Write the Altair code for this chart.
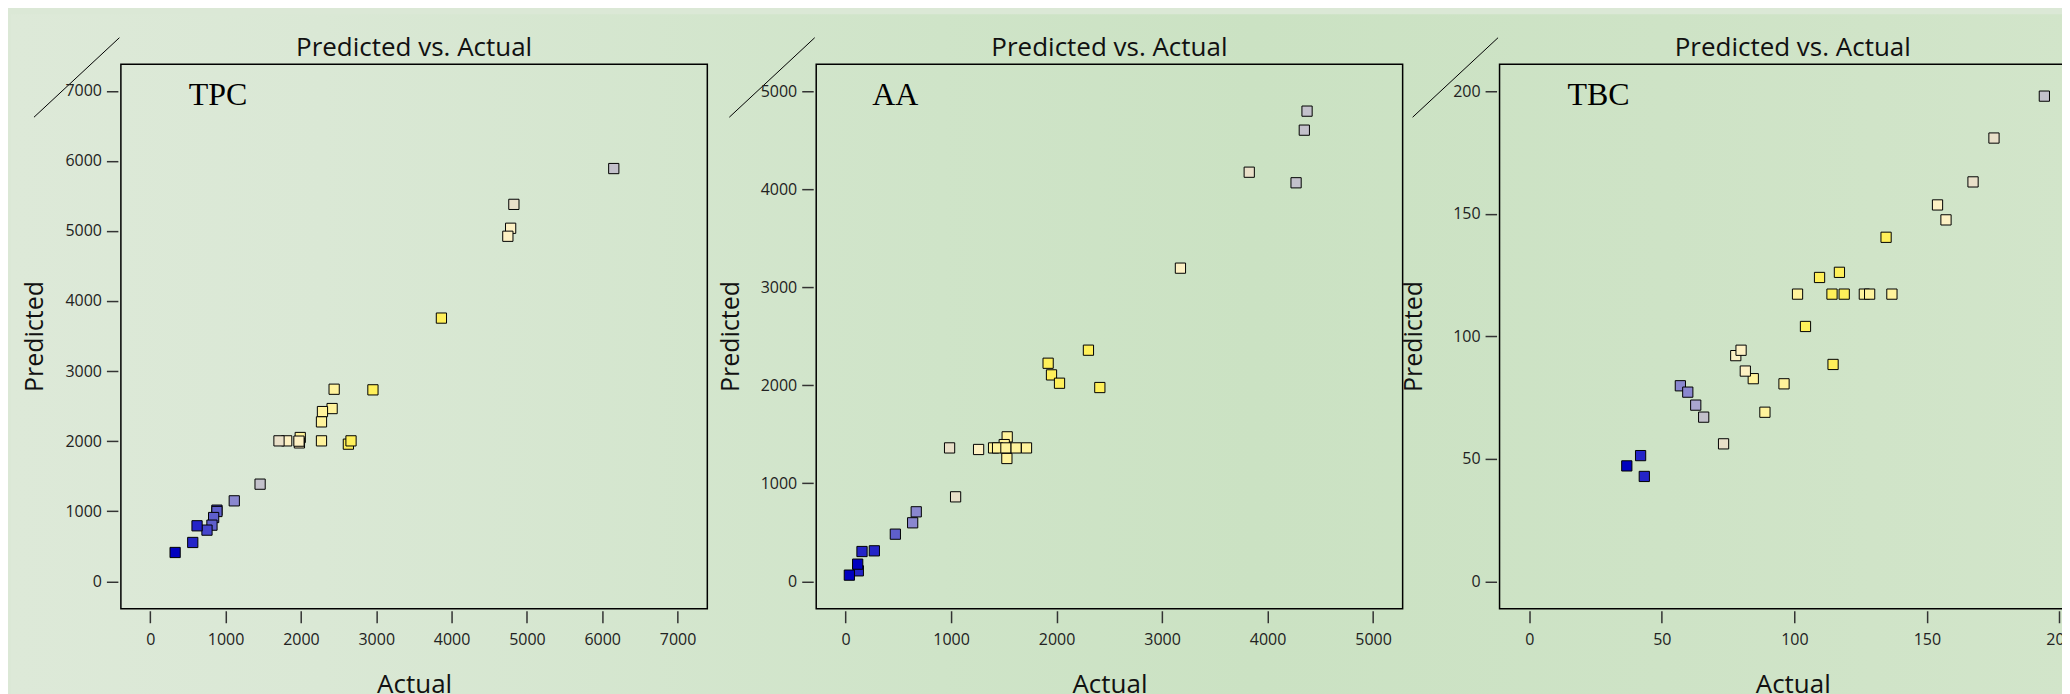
import altair as alt
import pandas as pd

FONT = "Open Sans"
SERIF = "Liberation Serif"

# ---------------- data ----------------
tpc_actual = [6153, 4827, 4784, 4747, 3865, 2441, 2956, 2414, 2286, 2273, 2273, 2630, 2665, 1991, 1980, 1974, 1811, 1709, 1458, 1115, 885, 885, 841, 819, 753, 621, 564, 330]
tpc_pred = [5890, 5379, 5038, 4924, 3756, 2741, 2732, 2465, 2422, 2275, 2004, 1957, 2004, 2052, 1975, 2000, 2004, 2004, 1386, 1148, 1015, 996, 910, 801, 730, 792, 554, 411]
tpc_level = [7, 8, 9, 9, 11, 10, 11, 10, 10, 10, 10, 11, 11, 10, 9, 9, 9, 8, 7, 5, 3, 4, 4, 4, 3, 2, 2, 1]

aa_actual = [4374, 4348, 4270, 3826, 3174, 2302, 1920, 1952, 2028, 2410, 1532, 986, 1261, 1403, 1504, 1441, 1520, 1617, 1715, 1529, 1043, 670, 636, 472, 273, 156, 121, 115, 36]
aa_pred = [4797, 4603, 4066, 4174, 3195, 2358, 2225, 2106, 2021, 1977, 1474, 1361, 1345, 1361, 1395, 1361, 1361, 1361, 1361, 1253, 862, 709, 597, 481, 311, 304, 107, 175, 63]
aa_level = [7, 7, 7, 8, 9, 11, 11, 11, 11, 11, 10, 8, 9, 10, 10, 10, 10, 10, 10, 10, 8, 5, 5, 4, 2, 2, 2, 1, 1]

tbc_actual = [194.3, 175.3, 167.4, 154.0, 157.2, 134.6, 117.0, 109.5, 101.2, 114.2, 118.8, 126.4, 128.4, 136.8, 104.2, 114.6, 77.9, 79.9, 84.5, 81.5, 96.1, 88.9, 57.0, 59.8, 62.8, 65.8, 73.3, 42.0, 36.8, 43.4]
tbc_pred = [198.0, 180.9, 163.0, 153.6, 147.5, 140.4, 126.1, 124.0, 117.2, 117.2, 117.2, 117.2, 117.2, 117.2, 104.0, 88.5, 92.1, 94.3, 82.7, 85.8, 80.6, 69.0, 79.8, 77.2, 71.9, 67.0, 56.1, 51.3, 47.1, 42.8]
tbc_level = [7, 8, 8, 9, 9, 11, 11, 11, 10, 11, 11, 10, 10, 10, 11, 11, 9, 9, 10, 9, 10, 10, 5, 5, 6, 7, 8, 2, 1, 2]

tpc_ticks = [0, 1000, 2000, 3000, 4000, 5000, 6000, 7000]
aa_ticks = [0, 1000, 2000, 3000, 4000, 5000]
tbc_ticks = [0, 50, 100, 150, 200]

panel_title = "Predicted vs. Actual"

color_levels = [1, 2, 3, 4, 5, 6, 7, 8, 9, 10, 11]
color_values = ["#0000c0", "#2424c8", "#4646cc", "#5f5fcc", "#8a87cf", "#a9a5cf",
                "#c3c1cb", "#e9e0c9", "#fdf1c4", "#fff39c", "#fff05a"]

# soft green backdrop (lighter on the left, greener in the middle)
bg_stops = [(0.0, "#dde9d8"), (0.15, "#dae8d5"), (0.45, "#cfe4c8"),
            (0.6, "#cbe2c3"), (0.8, "#cee3c6"), (1.0, "#d2e5ca")]

FW, H = 587, 545  # frame size of every panel


def make_panel(actual, pred, level, name, xdom, ydom, ticks, label_x, layout_w, backdrop=False):
    df = pd.DataFrame({"Actual": actual, "Predicted": pred, "level": level})
    x_axis = alt.Axis(values=ticks, format="d", grid=False, domain=False, zindex=2,
                      tickSize=12, tickWidth=1.5, tickColor="#333", offset=2,
                      labelFontSize=16, labelColor="#222", labelPadding=8.5, labelFont=FONT,
                      titleFontSize=26, titleFont=FONT, titleFontWeight="normal",
                      titleColor="#111", titleBaseline="alphabetic", titleY=82,
                      titleX=FW / 2)
    y_axis = alt.Axis(values=ticks, format="d", grid=False, domain=False, zindex=2,
                      tickSize=11.5, tickWidth=1.5, tickColor="#333", offset=3,
                      labelFontSize=16, labelColor="#222", labelPadding=5, labelFont=FONT,
                      titleFontSize=25, titleFont=FONT, titleFontWeight="normal",
                      titleColor="#111", titleBaseline="alphabetic", titleX=-75, titleY=272)
    pts = alt.Chart(df).mark_square(size=105, stroke="black", strokeWidth=1, opacity=1).encode(
        x=alt.X("Actual:Q", title="Actual",
                scale=alt.Scale(domain=xdom, range=[0, FW], nice=False, zero=False), axis=x_axis),
        y=alt.Y("Predicted:Q", title="Predicted",
                scale=alt.Scale(domain=ydom, nice=False, zero=False), axis=y_axis),
        fill=alt.Fill("level:O", scale=alt.Scale(domain=color_levels, range=color_values), legend=None),
    )
    lab_df = pd.DataFrame({"name": [name], "title": [panel_title]})
    frame = alt.Chart(lab_df).mark_rect(filled=False, stroke="black", strokeWidth=1.5).encode(
        x=alt.value(0), x2=alt.value(FW), y=alt.value(0), y2=alt.value(H))
    txt = alt.Chart(lab_df).mark_text(font=SERIF, fontSize=32, color="black", align="left",
                                      baseline="alphabetic").encode(
        text="name:N", x=alt.value(label_x), y=alt.value(41))
    ttl = alt.Chart(lab_df).mark_text(font=FONT, fontSize=26, color="#111", align="center",
                                      baseline="alphabetic").encode(
        text="title:N", x=alt.value(FW / 2), y=alt.value(-8))
    diag = alt.Chart(lab_df).mark_rule(color="black", strokeWidth=1).encode(
        x=alt.value(-87), y=alt.value(53), x2=alt.value(-1.5), y2=alt.value(-26.6))
    # invisible anchor fixing the top-left corner of the drawing's bounds
    anchor = alt.Chart(lab_df).mark_rule(strokeOpacity=0, strokeWidth=0.5).encode(
        x=alt.value(-110), y=alt.value(-50), x2=alt.value(-100), y2=alt.value(-50))
    layers = [pts, frame, txt, ttl, diag, anchor]
    if backdrop:
        grad = alt.LinearGradient(
            gradient="linear", x1=0, x2=1, y1=0, y2=0,
            stops=[alt.GradientStop(offset=o, color=c) for o, c in bg_stops])
        back = alt.Chart(lab_df).mark_rect(fill=grad, strokeWidth=0).encode(
            x=alt.value(-110), x2=alt.value(1960), y=alt.value(-50), y2=alt.value(640))
        layers = [back] + layers
    return alt.layer(*layers).properties(
        width=layout_w, height=H,
        view=alt.ViewBackground(stroke="transparent"))


p1 = make_panel(tpc_actual, tpc_pred, tpc_level, "TPC", [-390, 7395], [-392, 7378], tpc_ticks, 68, FW,
                backdrop=True)
p2 = make_panel(aa_actual, aa_pred, aa_level, "AA", [-278, 5280], [-280, 5275], aa_ticks, 56, FW - 12)
p3 = make_panel(tbc_actual, tbc_pred, tbc_level, "TBC", [-11.2, 210], [-11.2, 211], tbc_ticks, 68, FW)

chart = alt.hconcat(p1, p2, p3, spacing=109, bounds="flush").configure(
    background="#dbe8d6",
    padding={"left": 2, "top": 5, "right": -26, "bottom": 0},
).configure_view(stroke="transparent")

chart.save("out.html", embed_options={"renderer": "svg", "actions": False})
